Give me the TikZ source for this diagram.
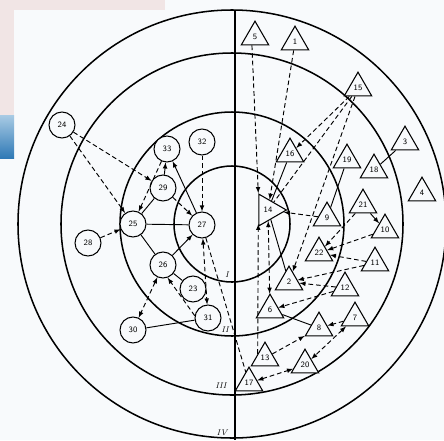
\documentclass[tikz,border=0pt]{standalone}
\usepackage{tikz}
\usetikzlibrary{shapes.geometric,arrows}
\definecolor{paper}{HTML}{F8FAFC}
\definecolor{scanpink}{HTML}{F1E5E5}
\definecolor{barlight}{HTML}{A9CBE4}
\definecolor{bardark}{HTML}{0C2A4A}
\definecolor{barblue}{HTML}{2F79B6}

\begin{document}
\begin{tikzpicture}[x=0.03cm,y=-0.03cm,
    ring/.style={line width=1.3pt},
    pers/.style={draw,circle,fill=paper,line width=0.9pt,minimum size=0.78cm,
        inner sep=0,font=\scriptsize\sffamily},
    tri/.style={draw,regular polygon,regular polygon sides=3,fill=paper,
        line width=0.9pt,minimum size=0.95cm,inner sep=0,font=\scriptsize\sffamily},
    link/.style={line width=0.8pt},
    dlink/.style={line width=0.8pt,dash pattern=on 4pt off 2.5pt},
    ringlab/.style={font=\scriptsize\itshape,inner sep=0}]
                  % Paper and scan edge
                  \useasboundingbox (0,0) rectangle (444,440);
                  \fill[paper] (0,0) rectangle (444,440);
                  \fill[scanpink] (0,0) rectangle (165,10);
                  \fill[scanpink] (0,0) rectangle (14,115);
                  \shade[top color=barlight,middle color=bardark,bottom color=barblue]
                  (0,115) rectangle (14,158);

                  % Draw the four rings and the axis
                  \draw[ring] (232,224) circle[radius=6.42cm];
                  \draw[ring] (232,224) circle[radius=5.13cm];
                  \draw[ring] (232,224) circle[radius=3.36cm];
                  \draw[ring] (232,224) circle[radius=1.74cm];
                  \draw[line width=0.9pt] (235,10) -- (235,440);

                  \node[ringlab] (lI) at (227,275) {I};
                  \node[ringlab] (lII) at (225,330) {II};
                  \node[ringlab] (lIII) at (221,386) {III};
                  \node[ringlab] (lIV) at (222,433) {IV};

                  % Circles
                  \node[pers] (p24) at (62,125) {24};
                  \node[pers] (p33) at (167,149) {33};
                  \node[pers] (p32) at (202,142) {32};
                  \node[pers] (p29) at (163,188) {29};
                  \node[pers] (p28) at (88,243) {28};
                  \node[pers] (p25) at (133,224) {25};
                  \node[pers] (p27) at (202,225) {27};
                  \node[pers] (p26) at (163,265) {26};
                  \node[pers] (p23) at (193,289) {23};
                  \node[pers] (p31) at (208,318) {31};
                  \node[pers] (p30) at (133,330) {30};

                  % Triangles
                  \node[tri] (t5) at (255,37) {5};
                  \node[tri] (t1) at (295,42) {1};
                  \node[tri] (t15) at (358,88) {15};
                  \node[tri] (t3) at (405,142) {3};
                  \node[tri] (t16) at (290,154) {16};
                  \node[tri] (t19) at (347,160) {19};
                  \node[tri] (t18) at (374,170) {18};
                  \node[tri] (t4) at (422,193) {4};
                  \node[tri,minimum size=1.1cm,shape border rotate=-90] (t14) at (268,210) {14};
                  \node[tri] (t9) at (327,218) {9};
                  \node[tri] (t21) at (363,205) {21};
                  \node[tri] (t10) at (385,230) {10};
                  \node[tri] (t22) at (319,253) {22};
                  \node[tri] (t11) at (375,263) {11};
                  \node[tri] (t2) at (289,282) {2};
                  \node[tri] (t12) at (345,288) {12};
                  \node[tri] (t6) at (270,310) {6};
                  \node[tri] (t7) at (355,318) {7};
                  \node[tri] (t8) at (319,328) {8};
                  \node[tri] (t13) at (265,358) {13};
                  \node[tri] (t20) at (305,365) {20};
                  \node[tri] (t17) at (249,383) {17};

                  % Links on the left
                  \draw[dlink,-latex] (p24) -- (p29);
                  \draw[dlink,-latex] (p24) -- (p25);
                  \draw[dlink,-latex] (p28) -- (p25);
                  \draw[dlink,-latex] (p33) -- (p25);
                  \draw[link,-latex] (p29) -- (p33);
                  \draw[link] (p29) -- (p25);
                  \draw[dlink,-latex] (p29) -- (p27);
                  \draw[link,-latex] (p27) -- (p33);
                  \draw[dlink,-latex] (p32) -- (p27);
                  \draw[link] (p25) -- (p27);
                  \draw[link] (p25) -- (p26);
                  \draw[link,-latex] (p26) -- (p27);
                  \draw[link] (p26) -- (p23);
                  \draw[dlink,latex-latex] (p26) -- (p30);
                  \draw[dlink,-latex] (p31.170) -- (p26.290);
                  \draw[link] (p30) -- (p31);
                  \draw[dlink,latex-latex] (p27) -- (p31);
                  \draw[dlink] (p27) -- (t17);

                  % Links on the right
                  \draw[dlink,-latex] (t5.250) -- (t14.corner 2);
                  \draw[dlink,-latex] (t1) -- (t14);
                  \draw[dlink,-latex] (t15) -- (t16);
                  \draw[dlink] (t15) -- (t14);
                  \draw[dlink,-latex] (t15) -- (t2);
                  \draw[link] (t16) -- (t14);
                  \draw[link] (t3) -- (t18);
                  \draw[link] (t19) -- (t9);
                  \draw[dlink,-latex] (t9) -- (t14);
                  \draw[link,-latex] (t21) -- (t10);
                  \draw[dlink,-latex] (t21) -- (t22);
                  \draw[dlink,-latex] (t10) -- (t22);
                  \draw[dlink,-latex] (t11) -- (t22);
                  \draw[dlink,-latex] (t11) -- (t2);
                  \draw[dlink,-latex] (t12) -- (t2);
                  \draw[link] (t14) -- (t2);
                  \draw[dlink,-latex] (t13.150) -- (t14.235);
                  \draw[dlink,latex-latex] (t6) -- (t14);
                  \draw[link] (t6) -- (t8);
                  \draw[dlink,-latex] (t12) -- (t6);
                  \draw[dlink,-latex] (t7) -- (t8);
                  \draw[dlink,-latex] (t13) -- (t8);
                  \draw[dlink,latex-latex] (t7) -- (t20);
                  \draw[dlink,latex-latex] (t17) -- (t20);
              \end{tikzpicture}
\end{document}
